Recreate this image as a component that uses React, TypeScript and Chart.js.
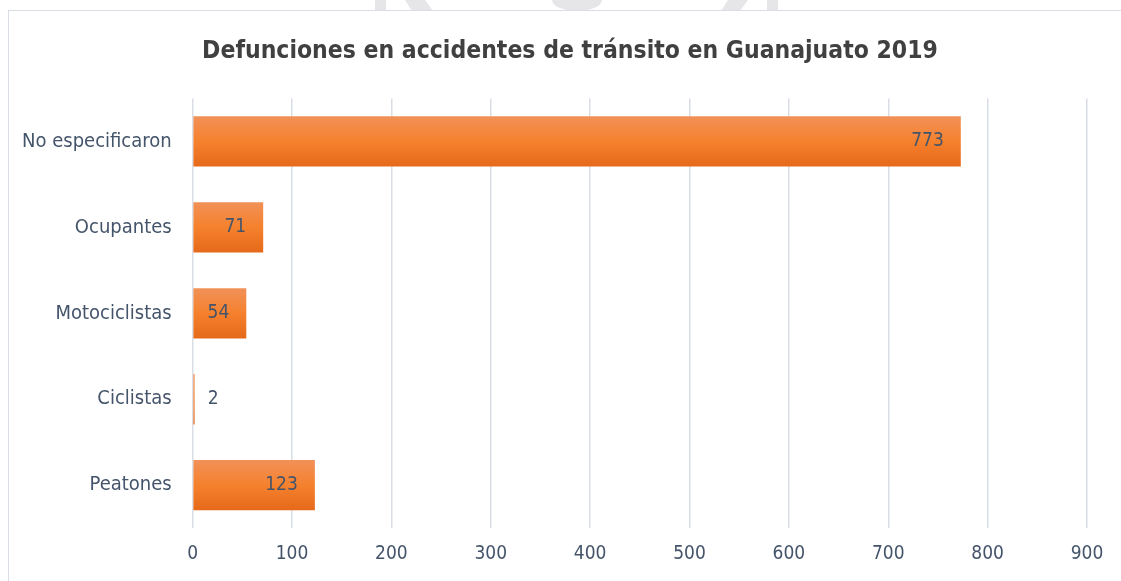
import React, { useEffect, useRef } from "react";
import { Chart, registerables } from "chart.js";

Chart.register(...registerables);

const categories = ["No especificaron", "Ocupantes", "Motociclistas", "Ciclistas", "Peatones"];
const values = [773, 71, 54, 2, 123];
const xTicks = [0, 100, 200, 300, 400, 500, 600, 700, 800, 900];
const chartTitle = "Defunciones en accidentes de tránsito en Guanajuato 2019";

const FONT = "'DejaVu Sans Condensed', 'Liberation Sans Narrow', 'Arial Narrow', sans-serif";
const TEXT = "#44546A";
const BAR_PCT = 0.585;

const barFill = (c: any) => {
  const chart = c.chart;
  const ys = chart.scales && chart.scales.y;
  if (!ys || ys.bottom === undefined || c.dataIndex === undefined) return "#F5812D";
  const center = ys.getPixelForValue(c.dataIndex);
  const band = (ys.bottom - ys.top) / categories.length;
  const h = band * BAR_PCT;
  const top = center - h / 2;
  if (!isFinite(top)) return "#F5812D";
  const g = chart.ctx.createLinearGradient(0, top, 0, top + h);
  g.addColorStop(0, "#F19158");
  g.addColorStop(0.5, "#F5812D");
  g.addColorStop(1, "#E5691A");
  return g;
};

const titleCenterPlugin = {
  id: "titleCenter",
  afterLayout(chart: any) {
    const t = chart.titleBlock;
    if (t) {
      t.left = 0;
      t.right = 1138;
    }
  },
};

const labelPlugin = {
  id: "valueLabels",
  afterDatasetsDraw(chart: any) {
    const ctx = chart.ctx;
    const meta = chart.getDatasetMeta(0);
    const data = chart.data.datasets[0].data;
    ctx.save();
    ctx.font = `19px ${FONT}`;
    ctx.fillStyle = TEXT;
    ctx.textBaseline = "middle";
    meta.data.forEach((el: any, i: number) => {
      const txt = String(data[i]);
      const w = ctx.measureText(txt).width;
      if (el.x - el.base > w + 20) {
        ctx.textAlign = "right";
        ctx.fillText(txt, el.x - 17, el.y);
      } else {
        ctx.textAlign = "left";
        ctx.fillText(txt, el.x + 13, el.y);
      }
    });
    ctx.restore();
  },
};

export default function App() {
  const ref = useRef<HTMLCanvasElement>(null);
  useEffect(() => {
    if (!ref.current) return;
    const chart = new Chart(ref.current, {
      type: "bar",
      data: {
        labels: categories,
        datasets: [
          {
            data: values,
            backgroundColor: barFill,
            categoryPercentage: 1,
            barPercentage: BAR_PCT,
          },
        ],
      },
      options: {
        indexAxis: "y",
        animation: false,
        responsive: false,
        layout: { padding: { left: 0, right: 44, top: 0, bottom: 0 } },
        plugins: {
          legend: { display: false },
          tooltip: { enabled: false },
          title: {
            display: true,
            text: chartTitle,
            color: "#404040",
            font: { family: FONT, size: 24.5, weight: "bold" },
            padding: { top: 26, bottom: 32 },
          },
        },
        scales: {
          x: {
            min: 0,
            max: 900,
            afterBuildTicks: (axis: any) => {
              axis.ticks = xTicks.map((v) => ({ value: v }));
            },
            grid: { color: "#D9DEE6", lineWidth: 1.5, drawTicks: false },
            border: { display: false },
            ticks: { color: TEXT, font: { family: FONT, size: 19 }, padding: 14 },
          },
          y: {
            grid: { display: false, drawTicks: false },
            border: { display: false },
            ticks: { color: TEXT, font: { family: FONT, size: 20 }, padding: 21 },
          },
        },
      },
      plugins: [titleCenterPlugin, labelPlugin],
    });
    return () => chart.destroy();
  }, []);

  return (
    <>
      <svg
        width={1121}
        height={11}
        style={{ position: "fixed", left: 0, top: 0, display: "block" }}
        aria-hidden="true"
      >
        <g fill="#E6E6E9">
          <rect x={375} y={0} width={11} height={11} />
          <polygon points="405,0 425,0 433,11 412,11" />
          <path d="M552,0 L602,0 A25,11 0 0 1 552,0 Z" />
          <polygon points="728,0 748,0 740,11 721,11" />
          <rect x={767} y={0} width={11} height={11} />
        </g>
      </svg>
      <div style={{ position: "fixed", left: 8, top: 10, right: 0, bottom: 0, overflow: "hidden", background: "#fff" }}>
        <div
          style={{
            position: "absolute",
            left: 0,
            top: 0,
            width: 1140,
            height: 600,
            border: "1px solid #D9DEE6",
            background: "#fff",
          }}
        />
        <canvas
          ref={ref}
          width={1130}
          height={568}
          style={{ display: "block", position: "absolute", left: -7, top: 1 }}
        />
      </div>
    </>
  );
}
